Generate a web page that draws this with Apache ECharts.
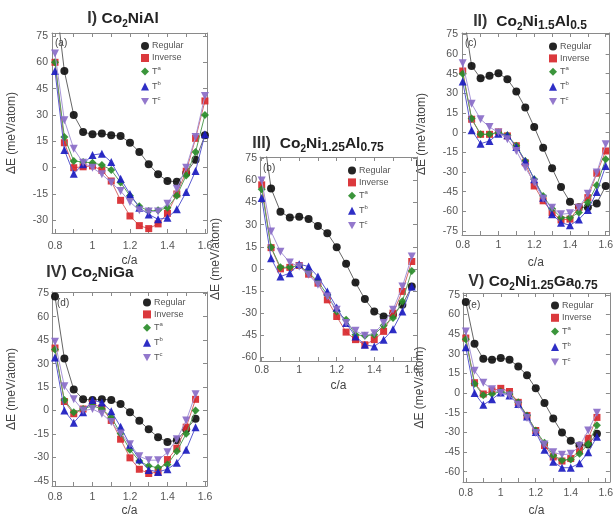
<!DOCTYPE html>
<html>
<head>
<meta charset="utf-8">
<script src="https://cdn.jsdelivr.net/npm/echarts@6/dist/echarts.min.js"></script>
<style>html,body{margin:0;padding:0;background:#fff}#c{width:616px;height:518px}</style>
</head>
<body>
<div id="c"></div>
<script>
// ---- data ----
const ca = [0.8, 0.85, 0.9, 0.95, 1.0, 1.05, 1.1, 1.15, 1.2, 1.25, 1.3, 1.35, 1.4, 1.45, 1.5, 1.55, 1.6];
const seriesNames = ['Regular', 'Inverse', 'Ta', 'Tb', 'Tc'];
const xTickLabels = [0.8, 1, 1.2, 1.4, 1.6];
const xTickMarks = [0.8, 0.9, 1.0, 1.1, 1.2, 1.3, 1.4, 1.5, 1.6];
const yTicksI = [-30, -15, 0, 15, 30, 45, 60, 75];
const yTicksII = [-75, -60, -45, -30, -15, 0, 15, 30, 45, 60, 75];
const yTicksIII = [-60, -45, -30, -15, 0, 15, 30, 45, 60, 75];
const yTicksIV = [-45, -30, -15, 0, 15, 30, 45, 60, 75];
const yTicksV = [-60, -45, -30, -15, 0, 15, 30, 45, 60, 75];

// I) Co2NiAl
const I_regular = [100, 55, 30, 20.3, 19, 19.4, 18.4, 18, 14.2, 9, 2, -3.8, -7.6, -8, -3, 4.5, 18.4];
const I_inverse = [60, 14.2, 0, 0.5, 1, -1.5, -7.6, -18.6, -27.5, -33, -34.7, -32, -26, -15, -2, 16.7, 38];
const I_ta = [60, 17.5, 3.8, 3.2, 2.8, 1.5, -1.3, -8.5, -16, -22, -24.7, -24.3, -22.8, -16, -4.4, 9, 30];
const I_tb = [55, 10, -3.4, 2, 7.2, 8, 3.2, -6.3, -15, -22.8, -26.6, -29.4, -28.5, -23.7, -13.9, -1.9, 19];
const I_tc = [65, 27, 10.8, 2.8, 0, -3.8, -8.5, -13.3, -19.5, -24.3, -25, -25, -20.5, -12, 0, 17.5, 40.8];

// II) Co2Ni1.5Al0.5
const II_regular = [95, 50.9, 41.5, 43.3, 45.3, 40.7, 31.3, 19.1, 4.3, -11.5, -27.2, -41.5, -52.7, -57, -57, -54, -40.7];
const II_inverse = [47, 10.2, -1.3, -1.3, 0.5, -2.5, -10, -23, -40.7, -52, -61, -66.6, -66, -57, -49.6, -31, -14];
const II_ta = [45, 10.7, -1.3, -1.3, 0, -2, -10, -21.6, -35.6, -48.3, -58, -64.9, -64.9, -61, -53.4, -40.2, -20.4];
const II_tb = [39, 1.8, -8.4, -6.4, -0.8, -2, -10.9, -21.6, -35.6, -49.6, -62.3, -68.7, -70.7, -66.2, -59, -45.3, -25.4];
const II_tc = [53, 22, 10.2, 4.3, 0, -5, -14, -26.7, -38, -50.4, -57.3, -62.3, -61.6, -57.3, -46.6, -30.5, -8.9];

// III) Co2Ni1.25Al0.75
const III_regular = [100, 54.6, 38.8, 34.8, 35.4, 33.9, 29.1, 24.2, 14.7, 3.4, -9.3, -20.5, -28.9, -32.3, -31, -24.4, -12];
const III_inverse = [57, 14.4, 0, 1, 2.3, -3.6, -9.7, -21, -32.3, -42.9, -48, -51.5, -48, -42.4, -30, -15.3, 5];
const III_ta = [54, 14.7, 1.1, 1.1, 2.3, -2.5, -8.6, -17.6, -28.9, -34.5, -44.7, -45.4, -44.7, -38.4, -33.4, -22, -1.4];
const III_tb = [48, 7.2, -5.2, -2.9, 3.2, 1.6, -5.2, -15.3, -26.2, -36.8, -45.8, -51.5, -52.6, -48, -40.9, -28.9, -12];
const III_tc = [60, 25.3, 11.7, 4.3, 1.6, -4, -10.8, -18.7, -27.8, -36.8, -42, -45.4, -43.6, -36.8, -27.8, -12, 8.4];

// IV) Co2NiGa
const IV_regular = [73, 33.3, 13.5, 7.3, 6.7, 7.3, 6.7, 4.2, -1, -6.5, -12, -17, -20, -19, -12, -5.2];
const IV_inverse = [40, 5.8, -2, 1, 4.6, 1.7, -6.3, -18.3, -30.2, -37.5, -40.2, -39.2, -31.3, -24, -10.6, 7.2];
const IV_ta = [39, 6.7, -1, 1, 3.1, 1, -4.2, -14.6, -25, -32.3, -35.4, -36.5, -34.4, -26, -14.8, 0];
const IV_tb = [34, 0, -7.7, -1, 6.7, 5.2, -0.4, -10.4, -21.9, -31.3, -37.9, -39.2, -37.5, -33.3, -25, -10.6];
const IV_tc = [44, 15.6, 7.3, 0, 1, -2, -7.3, -14.6, -21.5, -29.2, -31.7, -31.7, -26.7, -18.3, -6.4, 10.5];

// V) Co2Ni1.25Ga0.75
const V_regular = [69.5, 37.6, 26.2, 25.5, 26.7, 25.5, 20.2, 13.6, 3.6, -7.6, -19.5, -30.2, -36.4, -40, -39.3, -31];
const V_inverse = [42, 7.9, -0.7, 1.7, 3.6, 1.2, -7.1, -17.1, -28.6, -40, -48.8, -51.9, -50, -44, -34.5, -18.6];
const V_ta = [41, 7.1, -1.7, -0.7, 1.2, -0.7, -7.1, -17.1, -28.6, -38, -47.6, -51.2, -50.7, -46.4, -38.8, -24.5];
const V_tb = [35, 0, -9, -4.8, 0.5, -1.9, -8.3, -17.9, -29.8, -43.3, -52.4, -57, -57, -53.6, -45.2, -33.3];
const V_tc = [47, 17.1, 7.9, 2.9, 0, -1.9, -9, -19, -30.5, -39.3, -45.2, -47.1, -46.4, -40.5, -28.6, -15];

// ---- layout / styling ----
const panels = [
  { data: [I_regular, I_inverse, I_ta, I_tb, I_tc], yTicks: yTicksI, letter: '(a)',
    title: '{n|I) }{b|Co}{s2|2}{b|NiAl}', titlePos: [123, 20],
    grid: { left: 52, top: 33, width: 155, height: 200 }, xr: [0.784, 1.611], yr: [-37.2, 76.7],
    xMargin: 8, yMargin: 4, xNameGap: 22, yNameGap: 34, legend: [141, 41.5, 11], letterPos: [55, 43] },
  { data: [II_regular, II_inverse, II_ta, II_tb, II_tc], yTicks: yTicksII, letter: '(c)',
    title: '{n|II)  }{b|Co}{s2|2}{b|Ni}{s|1.5}{b|Al}{s|0.5}', titlePos: [530, 23],
    grid: { left: 462, top: 33, width: 157, height: 202 }, xr: [0.796, 1.622], yr: [-78.1, 76],
    xMargin: 5, yMargin: 4, xNameGap: 22, yNameGap: 34, legend: [549, 42, 10.9], letterPos: [465, 43] },
  { data: [III_regular, III_inverse, III_ta, III_tb, III_tc], yTicks: yTicksIII, letter: '(b)',
    title: '{n|III)  }{b|Co}{s2|2}{b|Ni}{s|1.25}{b|Al}{s|0.75}', titlePos: [318, 145],
    grid: { left: 260, top: 157, width: 157, height: 204 }, xr: [0.791, 1.628], yr: [-62.5, 75.9],
    xMargin: 4, yMargin: 3, xNameGap: 19, yNameGap: 38, legend: [348, 166, 10.9], letterPos: [263, 168] },
  { data: [IV_regular, IV_inverse, IV_ta, IV_tb, IV_tc], yTicks: yTicksIV, letter: '(d)',
    title: '{n|IV) }{b|Co}{s2|2}{b|NiGa}', titlePos: [90, 274],
    grid: { left: 52, top: 292, width: 155, height: 198 }, xr: [0.784, 1.611], yr: [-48.2, 75.8],
    xMargin: 6, yMargin: 3, xNameGap: 19, yNameGap: 34, legend: [143, 298, 10.9], letterPos: [57, 303] },
  { data: [V_regular, V_inverse, V_ta, V_tb, V_tc], yTicks: yTicksV, letter: '(e)',
    title: '{n|V) }{b|Co}{s2|2}{b|Ni}{s|1.25}{b|Ga}{s|0.75}', titlePos: [533, 283],
    grid: { left: 463, top: 293, width: 157, height: 202 }, xr: [0.784, 1.624], yr: [-67.9, 76.4],
    xMargin: 6, yMargin: 3, xNameGap: 23, yNameGap: 37, legend: [551, 301, 11.3], letterPos: [468, 305] }
];

const colors = ['#111111', '#d8282c', '#2a8c2a', '#1c1cc0', '#8a6cc8'];
const lineColors = ['#666666', '#d86a6a', '#5aa05a', '#5a5ad0', '#a896d8'];
const symbols = ['circle', 'rect', 'diamond', 'triangle', 'path://M0,0L10,0L5,9Z'];
const symSizes = [8, 7, 8, 8, 8];
const FONT = 'Liberation Sans, Arial, sans-serif';
const frame = '#8a8a8a';

const grids = [], xAxes = [], yAxes = [], series = [], legends = [], graphics = [];

const fmtX = v => String(+(+v).toFixed(2));

panels.forEach((p, pi) => {
  grids.push(Object.assign({ containLabel: false }, p.grid));
  const common = { gridIndex: pi, type: 'value', splitLine: { show: false },
    axisLine: { show: true, onZero: false, lineStyle: { color: frame, width: 1 } } };
  xAxes.push(Object.assign({}, common, {
    position: 'bottom', min: p.xr[0], max: p.xr[1],
    axisTick: { show: true, inside: true, length: 4, customValues: xTickMarks, lineStyle: { color: frame } },
    axisLabel: { customValues: xTickLabels, formatter: fmtX, fontSize: 10.5, color: '#555', margin: p.xMargin, fontFamily: FONT },
    name: 'c/a', nameLocation: 'middle', nameGap: p.xNameGap,
    nameTextStyle: { fontSize: 12, color: '#444', fontFamily: FONT }
  }));
  xAxes.push(Object.assign({}, common, {
    position: 'top', min: p.xr[0], max: p.xr[1],
    axisTick: { show: true, inside: true, length: 4, customValues: xTickMarks, lineStyle: { color: frame } },
    axisLabel: { show: false }
  }));
  yAxes.push(Object.assign({}, common, {
    position: 'left', min: p.yr[0], max: p.yr[1],
    axisTick: { show: true, inside: true, length: 4, customValues: p.yTicks, lineStyle: { color: frame } },
    axisLabel: { customValues: p.yTicks, fontSize: 10.5, color: '#555', margin: p.yMargin, fontFamily: FONT },
    name: 'ΔE (meV/atom)', nameLocation: 'middle', nameGap: p.yNameGap,
    nameTextStyle: { fontSize: 12, color: '#444', fontFamily: FONT }
  }));
  yAxes.push(Object.assign({}, common, {
    position: 'right', min: p.yr[0], max: p.yr[1],
    axisTick: { show: true, inside: true, length: 4, customValues: p.yTicks, lineStyle: { color: frame } },
    axisLabel: { show: false }
  }));

  p.data.forEach((vals, si) => {
    series.push({
      name: seriesNames[si], type: 'line', xAxisIndex: 2 * pi, yAxisIndex: 2 * pi,
      data: vals.map((v, i) => [ca[i], v]),
      symbol: symbols[si], symbolSize: symSizes[si], showAllSymbol: true, clip: true,
      itemStyle: { color: colors[si], opacity: 0.92 },
      lineStyle: { color: lineColors[si], width: 1 },
      emphasis: { disabled: true }, animation: false, z: 2 + si
    });
  });

  legends.push({
    orient: 'vertical', left: p.legend[0], top: p.legend[1], padding: 0,
    itemWidth: 8, itemHeight: 8, itemGap: p.legend[2] - 8, selectedMode: false,
    data: seriesNames.map((n, i) => ({ name: n, icon: symbols[i] })),
    formatter: n => ({ Ta: 'T{sup|a}', Tb: 'T{sup|b}', Tc: 'T{sup|c}' }[n] || n),
    textStyle: { fontSize: 9, color: '#555', fontFamily: FONT, padding: [0, 0, 0, -2], lineHeight: 9,
      rich: { sup: { fontSize: 6, verticalAlign: 'top', lineHeight: 12, color: '#555', fontFamily: FONT } } }
  });

  const subStyle = (fs) => ({ fontSize: fs, fontWeight: 'bold', fontFamily: FONT, fill: '#222', lineHeight: fs, verticalAlign: 'bottom', padding: [10, 0, 0, 0] });
  graphics.push({
    type: 'text', x: p.titlePos[0], y: p.titlePos[1], z: 10,
    style: {
      text: p.title, align: 'center', verticalAlign: 'middle',
      rich: {
        n: { fontSize: 16, fontWeight: 'bold', fontFamily: FONT, fill: '#333', lineHeight: 18, verticalAlign: 'top' },
        b: { fontSize: 15.5, fontWeight: 'bold', fontFamily: FONT, fill: '#222', lineHeight: 18, verticalAlign: 'top' },
        s: subStyle(12),
        s2: subStyle(10)
      }
    }
  });
  graphics.push({
    type: 'text', x: p.letterPos[0], y: p.letterPos[1], z: 10,
    style: { text: p.letter, fontSize: 10, fontFamily: FONT, fill: '#444', verticalAlign: 'middle' }
  });
});

const chart = echarts.init(document.getElementById('c'), null, { renderer: 'canvas' });
chart.setOption({
  backgroundColor: '#ffffff', animation: false,
  grid: grids, xAxis: xAxes, yAxis: yAxes, series: series, legend: legends, graphic: graphics
});
</script>
</body>
</html>
